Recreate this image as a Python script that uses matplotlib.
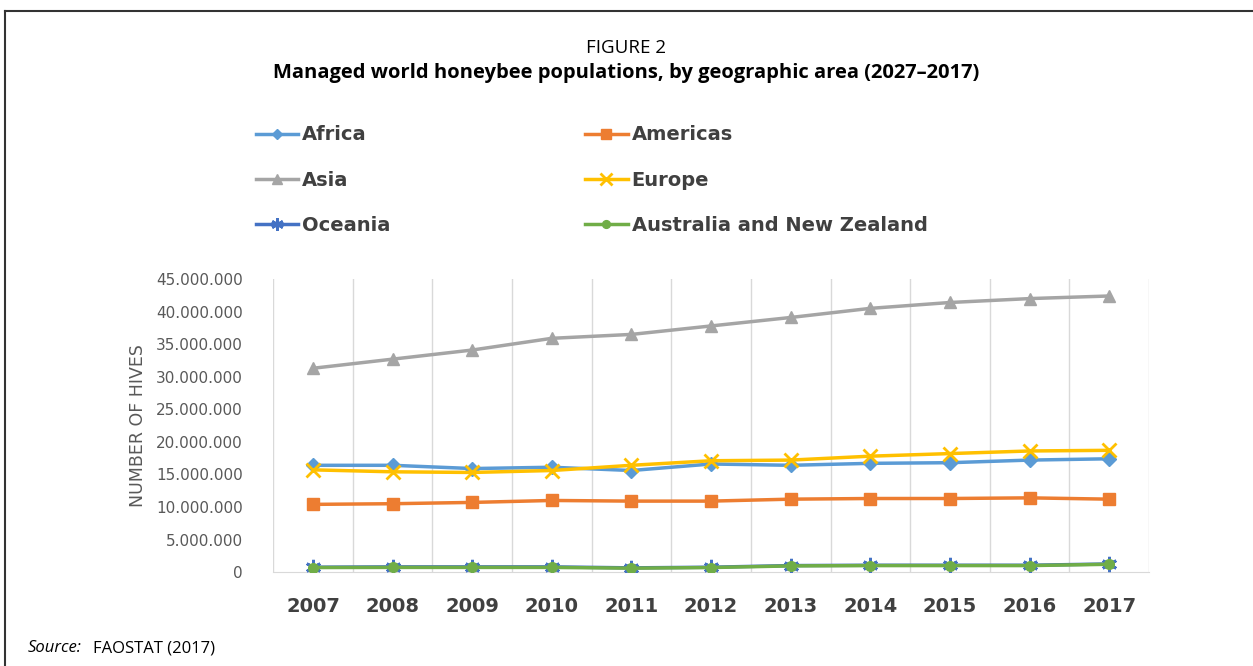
import numpy as np
import matplotlib
matplotlib.use("Agg")
import matplotlib.pyplot as plt
from matplotlib.ticker import FuncFormatter
from matplotlib.lines import Line2D

years = ["2007", "2008", "2009", "2010", "2011", "2012", "2013", "2014", "2015", "2016", "2017"]

africa = [16.4, 16.4, 15.9, 16.1, 15.6, 16.6, 16.4, 16.7, 16.8, 17.2, 17.4]
americas = [10.4, 10.5, 10.7, 11.0, 10.9, 10.9, 11.2, 11.3, 11.3, 11.4, 11.2]
asia = [31.3, 32.7, 34.1, 35.9, 36.5, 37.8, 39.1, 40.5, 41.4, 42.0, 42.4]
europe = [15.7, 15.4, 15.3, 15.6, 16.4, 17.1, 17.2, 17.8, 18.2, 18.6, 18.7]
oceania = [0.75, 0.80, 0.80, 0.80, 0.65, 0.75, 1.00, 1.05, 1.05, 1.05, 1.25]
anz = [0.70, 0.72, 0.72, 0.72, 0.60, 0.70, 0.95, 1.00, 1.00, 1.00, 1.20]

series_names = ["Africa", "Americas", "Asia", "Europe", "Oceania", "Australia and New Zealand"]

# values above are in millions of hives
scale = 1e6

styles = {
    "Africa": dict(color="#5B9BD5", marker="D", ms=7),
    "Americas": dict(color="#ED7D31", marker="s", ms=9),
    "Asia": dict(color="#A5A5A5", marker="^", ms=9),
    "Europe": dict(color="#FFC000", marker="x", ms=10, mew=2),
    "Oceania": dict(color="#4472C4", marker=(6, 2, 0), ms=11, mew=2),
    "Australia and New Zealand": dict(color="#70AD47", marker="o", ms=7),
}
data = dict(zip(series_names, [africa, americas, asia, europe, oceania, anz]))

fig = plt.figure(figsize=(12.53, 6.66), dpi=100)
ax = fig.add_axes([0.218, 0.141, 0.699, 0.440])

x = np.arange(len(years))
for name in series_names:
    st = styles[name]
    ax.plot(x, np.array(data[name]) * scale, color=st["color"], lw=2.5,
            marker=st["marker"], ms=st["ms"], mew=st.get("mew", 1),
            mfc=st["color"], mec=st["color"], zorder=3)

ax.set_xlim(-0.5, len(years) - 0.5)
ax.set_ylim(0, 45e6)
ax.set_yticks(np.arange(0, 45e6 + 1, 5e6))
ax.yaxis.set_major_formatter(FuncFormatter(lambda v, p: f"{int(v):,}".replace(",", ".")))
ax.set_xticks(x)
ax.set_xticklabels(years, fontsize=14, fontweight="bold", color="#404040")
ax.set_xticks(np.arange(-0.5, len(years)), minor=True)
ax.grid(which="minor", axis="x", color="#D9D9D9", lw=1)
ax.tick_params(axis="both", which="both", length=0)
ax.tick_params(axis="y", labelsize=11, labelcolor="#595959", pad=22)
ax.tick_params(axis="x", pad=18)
for s in ["top", "right", "left"]:
    ax.spines[s].set_visible(False)
ax.spines["bottom"].set_color("#D9D9D9")
ax.set_ylabel("NUMBER OF HIVES", fontsize=12.5, color="#595959", labelpad=6)

# legend above the plot, filled row by row like the original
order = [0, 2, 4, 1, 3, 5]
handles = []
labels = []
for i in order:
    name = series_names[i]
    st = styles[name]
    handles.append(Line2D([0], [0], color=st["color"], lw=2.5, marker=st["marker"],
                          ms=st["ms"] * 0.8, mew=st.get("mew", 1),
                          mfc=st["color"], mec=st["color"]))
    labels.append(name)
fig.legend(handles, labels, loc="upper left", bbox_to_anchor=(0.190, 0.838),
           ncol=2, frameon=False, prop=dict(size=14, weight="bold"),
           labelcolor="#404040", handlelength=2.2, handletextpad=0.2,
           columnspacing=10.0, labelspacing=1.35)

fig.text(0.5, 0.928, "FIGURE 2", ha="center", va="center", fontsize=13.5, family="Open Sans")
fig.text(0.5, 0.891, "Managed world honeybee populations, by geographic area (2027\u20132017)",
         ha="center", va="center", fontsize=14.5, fontweight="bold", family="Open Sans")
fig.text(0.022, 0.027, "Source:", ha="left", va="center", fontsize=12, style="italic", family="Open Sans")
fig.text(0.074, 0.027, "FAOSTAT (2017)", ha="left", va="center", fontsize=12, family="Open Sans")

# frame lines (top and left)
fig.add_artist(Line2D([0.004, 1.0], [0.984, 0.984], transform=fig.transFigure, color="#333333", lw=1.5))
fig.add_artist(Line2D([0.004, 0.004], [0.0, 0.984], transform=fig.transFigure, color="#333333", lw=1.5))

fig.savefig("out.png", dpi=100)
